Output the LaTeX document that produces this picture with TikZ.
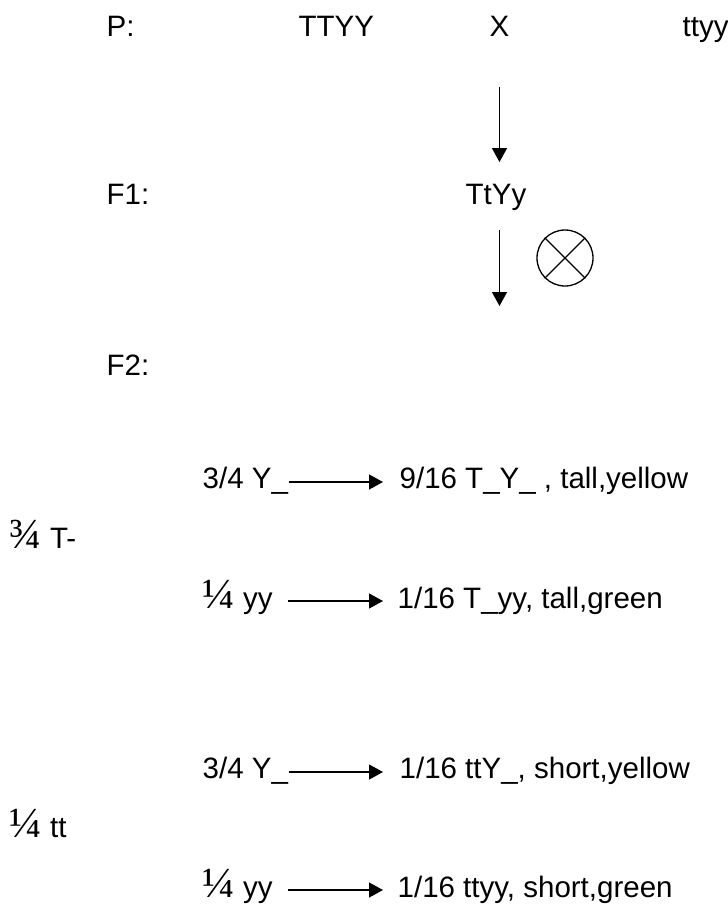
\documentclass[tikz,border=0pt]{standalone}
\usepackage{fontspec}
\setmainfont{Liberation Sans}
\newfontfamily\fracfont{Liberation Serif}
\usetikzlibrary{arrows.meta}

% big serif fraction glyphs
\newcommand{\frc}[1]{{\fracfont\fontsize{43}{43}\selectfont #1}}

\begin{document}
\begin{tikzpicture}[x=1pt, y=-1pt, line width=1.3pt,
	every node/.style={font=\fontsize{29.5}{34}\selectfont, inner sep=0pt, anchor=base west},
	>={Triangle[length=14pt, width=15pt]}]
	\useasboundingbox (0,0) rectangle (728,905);
	% parents
	\node (p) at (106,36) {P:};
	\node (pdom) at (298,36) {TTYY};
	\node (cross) at (489,36) {X};
	\node (prec) at (682,36) {ttyy};
	% F1 and selfing
	\node (f1) at (106,204) {F1:};
	\node (hybrid) at (465,204) {TtYy};
	\coordinate (down) at (cross.south |- 0,306);
	\draw[->, shorten <=50pt, shorten >=21pt] (cross.south) -- (cross.south |- hybrid.north);
	\draw[->, shorten <=19pt] (cross.south |- hybrid.south) -- (down);
	\node[draw, circle, minimum size=56pt, anchor=center] (self) at (565,258) {};
	\draw (self.north west) -- (self.south east);
	\draw (self.north east) -- (self.south west);
	% F2
	\node (f2) at (106,375) {F2:};
	\begin{scope}
		\node (tall) at (9,548) {\frc{¾} T-};
		\node (ty) at (202,488) {3/4 Y\_};
		\node (tyres) at (399,488) {9/16 T\_Y\_ , tall,yellow};
		\node (tg) at (202,608) {\frc{¼} yy};
		\node (tgres) at (397,608) {1/16 T\_yy, tall,green};
		\draw[->, shorten >=16pt] ([yshift=6pt]ty.base east) -- ([yshift=6pt]tyres.base west);
		\draw[->, shorten <=15pt, shorten >=14pt] ([yshift=7pt]tg.base east) -- ([yshift=7pt]tgres.base west);
	\end{scope}
	\begin{scope}
		\node (short) at (9,837) {\frc{¼} tt};
		\node (sy) at (202,778) {3/4 Y\_};
		\node (syres) at (399,778) {1/16 ttY\_, short,yellow};
		\node (sg) at (202,897) {\frc{¼} yy};
		\node (sgres) at (397,897) {1/16 ttyy, short,green};
		\draw[->, shorten >=16pt] ([yshift=6pt]sy.base east) -- ([yshift=6pt]syres.base west);
		\draw[->, shorten <=15pt, shorten >=14pt] ([yshift=7pt]sg.base east) -- ([yshift=7pt]sgres.base west);
	\end{scope}
\end{tikzpicture}
\end{document}
